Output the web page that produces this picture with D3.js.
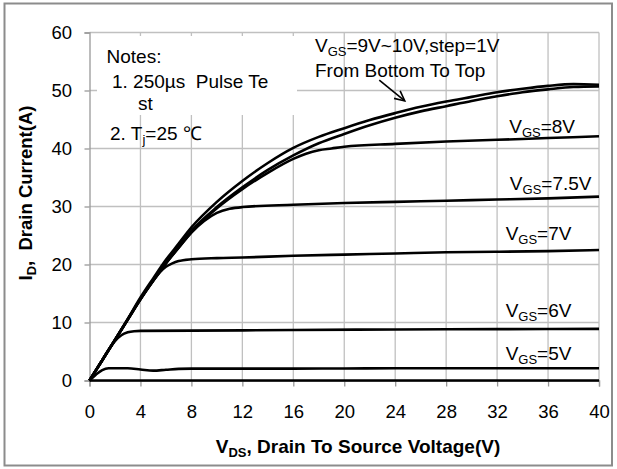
<!DOCTYPE html>
<html>
<head>
<meta charset="utf-8">
<script src="https://cdn.jsdelivr.net/npm/d3@7"></script>
<style>
  body { margin: 0; background: #fff; }
  text { font-family: "Liberation Sans", Arial, sans-serif; fill: #000; }
</style>
</head>
<body>
<div id="container"></div>
<script>
// output characteristics, ID vs VDS for each VGS
const vds10 = [0, 1, 2, 3, 4, 5, 6, 7, 8, 10, 12, 14, 16, 18, 20, 22, 24, 26, 28, 30, 32, 34, 36, 38, 40];
const id10 = [0, 3.5, 7.0, 10.6, 14.3, 17.6, 20.8, 23.6, 26.4, 30.8, 34.4, 37.5, 40.1, 42.0, 43.5, 44.9, 46.1, 47.2, 48.1, 48.9, 49.7, 50.3, 50.8, 51.1, 51.0];
const vds9 = [0, 1, 2, 3, 4, 5, 6, 7, 8, 10, 12, 14, 16, 18, 20, 22, 24, 26, 28, 30, 32, 34, 36, 38, 40];
const id9 = [0, 3.5, 7.0, 10.5, 14.1, 17.3, 20.4, 23.1, 25.8, 29.9, 33.3, 36.3, 38.8, 40.9, 42.5, 44.0, 45.3, 46.4, 47.3, 48.2, 49.0, 49.7, 50.2, 50.6, 50.7];
const vds8 = [0, 1, 2, 3, 4, 5, 6, 7, 8, 10, 12, 14, 16, 17, 18, 19, 20, 24, 28, 32, 36, 40];
const id8 = [0, 3.5, 7.0, 10.5, 14.0, 17.2, 20.2, 22.9, 25.6, 29.7, 33.0, 35.8, 38.2, 39.1, 39.7, 40.0, 40.3, 40.8, 41.2, 41.5, 41.8, 42.1];
const vds75 = [0, 1, 2, 3, 4, 5, 6, 7, 8, 9, 10, 11, 12, 16, 20, 24, 28, 32, 36, 40];
const id75 = [0, 3.5, 7.0, 10.5, 14.0, 17.2, 20.2, 22.9, 25.5, 27.5, 28.9, 29.6, 29.9, 30.3, 30.6, 30.8, 31.0, 31.2, 31.4, 31.7];
const vds7 = [0, 1, 2, 3, 4, 5, 5.5, 6, 6.5, 7, 8, 10, 12, 16, 20, 24, 28, 32, 36, 40];
const id7 = [0, 3.5, 7.0, 10.5, 14.0, 17.2, 18.6, 19.6, 20.2, 20.6, 20.9, 21.1, 21.2, 21.5, 21.7, 21.9, 22.1, 22.2, 22.3, 22.5];
const vds6 = [0, 1, 2, 2.5, 3, 3.5, 4, 8, 16, 24, 32, 40];
const id6 = [0, 3.5, 6.8, 7.8, 8.3, 8.5, 8.55, 8.6, 8.7, 8.8, 8.85, 8.9];
const vds5 = [0, 0.5, 1, 1.5, 3, 4, 5, 6, 7, 8, 16, 24, 32, 40];
const id5 = [0, 1.0, 1.8, 2.1, 2.1, 1.9, 1.7, 1.85, 2.0, 2.05, 2.05, 2.1, 2.1, 2.1];
const vds4 = [0, 40];
const id4 = [0, 0];

const xTicks = [0, 4, 8, 12, 16, 20, 24, 28, 32, 36, 40];
const yTicks = [0, 10, 20, 30, 40, 50, 60];

const series = [
  [vds4, id4], [vds5, id5], [vds6, id6], [vds7, id7],
  [vds75, id75], [vds8, id8], [vds9, id9], [vds10, id10]
];

const width = 617, height = 469;
const plot = { left: 89.5, right: 599, top: 32.5, bottom: 380.5 };

const x = d3.scaleLinear().domain([0, 40]).range([plot.left, plot.right]);
const y = d3.scaleLinear().domain([0, 60]).range([plot.bottom, plot.top]);

const svg = d3.select("#container").append("svg")
  .attr("width", width).attr("height", height);

svg.append("rect").attr("width", width).attr("height", height).attr("fill", "#fff");
// outer frame
svg.append("rect")
  .attr("x", 4.5).attr("y", 3.5).attr("width", 607.5).attr("height", 462)
  .attr("fill", "none").attr("stroke", "#8c8c8c").attr("stroke-width", 2);

// grid
const grid = svg.append("g").attr("stroke", "#c0c0c0").attr("stroke-width", 1.3);
grid.selectAll(".gx").data(xTicks.filter(d => d > 0)).enter().append("line")
  .attr("x1", d => x(d)).attr("x2", d => x(d))
  .attr("y1", plot.top).attr("y2", plot.bottom);
grid.selectAll(".gy").data(yTicks.filter(d => d > 0)).enter().append("line")
  .attr("x1", plot.left).attr("x2", plot.right)
  .attr("y1", d => y(d)).attr("y2", d => y(d));

// axes
const yAxis = d3.axisLeft(y).tickValues(yTicks).tickSize(5).tickPadding(12.5).tickFormat(d3.format("d"));
const xAxis = d3.axisBottom(x).tickValues(xTicks).tickSize(6).tickPadding(18.4).tickFormat(d3.format("d"));

const gy = svg.append("g").attr("transform", `translate(${plot.left},0)`).call(yAxis);
const gx = svg.append("g").attr("transform", `translate(0,${plot.bottom})`).call(xAxis);
[gx, gy].forEach(g => {
  g.select(".domain").attr("stroke", "#999").attr("stroke-width", 1.3);
  g.selectAll(".tick line").attr("stroke", "#999").attr("stroke-width", 1.3);
  g.selectAll(".tick text").attr("font-size", 18.5).attr("font-family", '"Liberation Sans", Arial, sans-serif').attr("fill", "#000");
});

// notes box (white fill hides the grid behind)
svg.append("rect").attr("x", 97).attr("y", 36).attr("width", 200).attr("height", 79).attr("fill", "#fff");

// curves
const line = d3.line()
  .x(d => x(d[0])).y(d => y(d[1]))
  .curve(d3.curveMonotoneX);
svg.append("g").selectAll("path").data(series).enter().append("path")
  .attr("d", s => line(s[0].map((v, i) => [v, s[1][i]])))
  .attr("fill", "none").attr("stroke", "#000").attr("stroke-width", 2.6)
  .attr("stroke-linejoin", "round");

// labels with VGS subscript
function vgsLabel(px, py, rest) {
  const t = svg.append("text").attr("x", px).attr("y", py).attr("font-size", 19);
  t.append("tspan").text("V");
  t.append("tspan").attr("font-size", 13).attr("dy", 4).text("GS");
  t.append("tspan").attr("dy", -4).text(rest);
  return t;
}
vgsLabel(x(32.95), y(42.67), "=8V");
vgsLabel(x(33.0), y(32.84), "=7.5V");
vgsLabel(x(32.67), y(24.22), "=7V");
vgsLabel(x(32.67), y(11.0), "=6V");
vgsLabel(x(32.67), y(3.53), "=5V");
vgsLabel(x(17.7), y(56.64), "=9V~10V,step=1V");
svg.append("text").attr("x", x(17.7)).attr("y", y(52.33)).attr("font-size", 19).text("From Bottom To Top");

// arrow
const ax0 = x(22.75), ay0 = y(51.8), ax1 = x(24.75), ay1 = y(48.2);
svg.append("line").attr("x1", ax0).attr("y1", ay0).attr("x2", ax1).attr("y2", ay1)
  .attr("stroke", "#000").attr("stroke-width", 1.6);
const ang = Math.atan2(ay1 - ay0, ax1 - ax0);
const hl = 11, hw = 0.45;
svg.append("path")
  .attr("d", `M${ax1 - hl * Math.cos(ang - hw)},${ay1 - hl * Math.sin(ang - hw)}L${ax1},${ay1}L${ax1 - hl * Math.cos(ang + hw)},${ay1 - hl * Math.sin(ang + hw)}`)
  .attr("fill", "none").attr("stroke", "#000").attr("stroke-width", 1.6);

// notes
svg.append("text").attr("x", 106.5).attr("y", 63).attr("font-size", 19).text("Notes:");
svg.append("text").attr("x", 112).attr("y", 88).attr("font-size", 19)
  .style("white-space", "pre").text("1. 250\u00b5s  Pulse Te");
svg.append("text").attr("x", 138).attr("y", 110).attr("font-size", 19).text("st");
const n2 = svg.append("text").attr("x", 110).attr("y", 140).attr("font-size", 19).style("white-space", "pre");
n2.append("tspan").text("2. T");
n2.append("tspan").attr("font-size", 13).attr("dy", 4).text("j");
n2.append("tspan").attr("dy", -4).text("=25 \u2103");

// axis titles
const xt = svg.append("text").attr("x", 358).attr("y", 453).attr("font-size", 19)
  .attr("font-weight", "bold").attr("text-anchor", "middle");
xt.append("tspan").text("V");
xt.append("tspan").attr("font-size", 13).attr("dy", 4).text("DS");
xt.append("tspan").attr("dy", -4).text(", Drain To Source Voltage(V)");

const yt = svg.append("text").attr("transform", "translate(32,193) rotate(-90)")
  .attr("font-size", 18.5).attr("font-weight", "bold").attr("text-anchor", "middle")
  .style("white-space", "pre");
yt.append("tspan").text("I");
yt.append("tspan").attr("font-size", 13).attr("dy", 4).text("D");
yt.append("tspan").attr("dy", -4).text(",  Drain Current(A)");
</script>
</body>
</html>
